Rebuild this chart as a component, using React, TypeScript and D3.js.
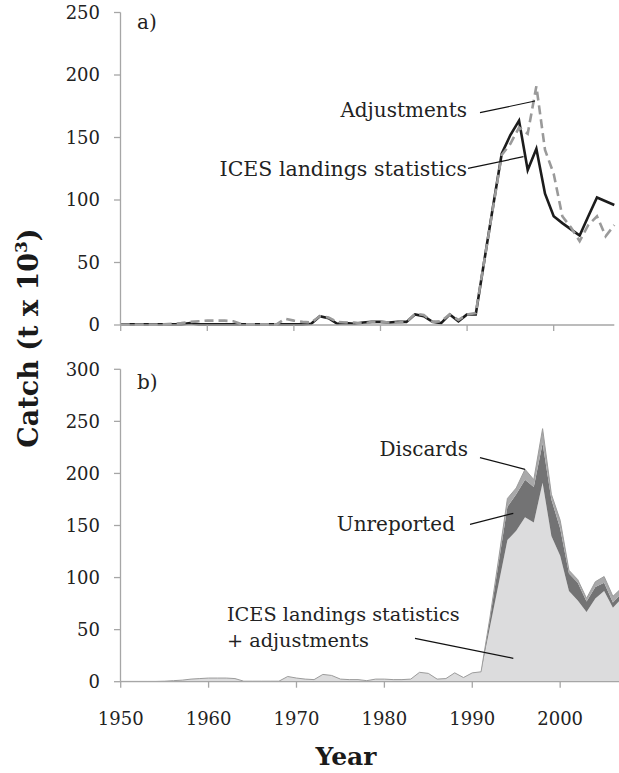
import React from "react";
import * as d3 from "d3";

// years 1950..2007
const years = d3.range(1950, 2008);

// ICES landings statistics (t x 10^3), panel a black line
const icesLandings = [
  0.5, 0.5, 0.5, 0.5, 0.5, 0.5, 0.5, 0.5, 1.5, 0.5,
  0.5, 0.5, 0.5, 0.5, 0.5, 0.5, 0.5, 0.5, 0.5, 0.5,
  0.5, 0.5, 1, 7, 5.5, 1, 1.5, 1, 2, 2.5,
  2.5, 2, 2.5, 2.5, 8.5, 7, 2.5, 1.5, 8.5, 3,
  8.5, 8.5, 52, 95, 137, 152, 163.5, 124, 141, 105,
  87, 81.5, 76.5, 71.5, 87, 102, 99, 96,
];

// ICES landings + adjustments (dashed line in a, base area in b)
const adjusted = [
  0.3, 0.3, 0.3, 0.3, 0.3, 0.5, 1, 1.5, 2.5, 3,
  3.5, 3.5, 3.5, 3, 0.5, 0.5, 0.5, 0.5, 0.5, 5,
  3.5, 2.5, 2, 7, 6, 2.5, 2, 2, 1, 2.5,
  2.5, 2, 2, 2.5, 9, 8, 2.5, 3, 8.5, 4,
  8.5, 9.5, 52, 94, 136, 145, 158, 153, 191, 140,
  121, 87, 78, 67, 80, 87, 71, 80,
];

const unreported = [
  0, 0, 0, 0, 0, 0, 0, 0, 0, 0,
  0, 0, 0, 0, 0, 0, 0, 0, 0, 0,
  0, 0, 0, 0, 0, 0, 0, 0, 0, 0,
  0, 0, 0, 0, 0, 0, 0, 0, 0, 0,
  0, 0, 8, 20, 32, 35, 36, 34, 38, 35,
  26, 17, 17, 10, 11, 8, 5, 5,
];

const discards = [
  0, 0, 0, 0, 0, 0, 0, 0, 0, 0,
  0, 0, 0, 0, 0, 0, 0, 0, 0, 0,
  0, 0, 0, 0, 0, 0, 0, 0, 0, 0,
  0, 0, 0, 0, 0, 0, 0, 0, 0, 0,
  0, 0, 1, 4, 8, 6, 10, 7, 14, 5,
  8, 3, 3, 3, 5, 6, 6, 5,
];

const yearTicks = [1950, 1960, 1970, 1980, 1990, 2000];
const ticksA = [0, 50, 100, 150, 200, 250];
const ticksB = [0, 50, 100, 150, 200, 250, 300];

const FONT = "'DejaVu Serif', serif";
const AXIS = "#a6a6a6";

export default function App() {
  const xA = d3.scaleLinear().domain([1950, 2007]).range([120.7, 614.3]);
  const yA = d3.scaleLinear().domain([0, 250]).range([325, 12.5]);
  const xB = d3.scaleLinear().domain([1950, 2007]).range([120.7, 621.7]);
  const yB = d3.scaleLinear().domain([0, 300]).range([681.7, 369.3]);

  const lineA = d3
    .line<number>()
    .x((d, i) => xA(years[i]))
    .y((d) => yA(d));

  const rows = years.map((yr, i) => ({
    year: yr,
    base: adjusted[i],
    unreported: unreported[i],
    discards: discards[i],
  }));
  const stacked = d3.stack<any>().keys(["base", "unreported", "discards"])(rows);
  const area = d3
    .area<any>()
    .x((d) => xB(d.data.year))
    .y0((d) => yB(d[0]))
    .y1((d) => yB(d[1]));
  const fills = ["#dcdcdd", "#737374", "#a9a9aa"];

  const axisX = 120.5;

  return (
    <svg
      width={619}
      height={773}
      style={{ position: "absolute", left: 0, top: 0, background: "#fff" }}
      fontFamily={FONT}
    >
      {/* ---------- panel a ---------- */}
      <path d={lineA(icesLandings) || ""} fill="none" stroke="#1c1c1c" strokeWidth={2.6} strokeLinejoin="miter" />
      <path
        d={lineA(adjusted) || ""}
        fill="none"
        stroke="#9a9a9a"
        strokeWidth={2.6}
        strokeDasharray="9,5"
      />
      <line x1={axisX} x2={axisX} y1={yA(250)} y2={yA(0)} stroke={AXIS} strokeWidth={1.3} />
      <line x1={axisX} x2={614.3} y1={yA(0)} y2={yA(0)} stroke={AXIS} strokeWidth={1.3} />
      {ticksA.map((t) => (
        <g key={"ya" + t}>
          <line x1={114} x2={axisX} y1={yA(t)} y2={yA(t)} stroke={AXIS} strokeWidth={1.3} />
          <text x={100} y={yA(t)} dy="0.35em" textAnchor="end" fontSize={18} fill="#222">
            {t}
          </text>
        </g>
      ))}
      {yearTicks.map((t) => (
        <line key={"xa" + t} x1={xA(t)} x2={xA(t)} y1={yA(0)} y2={yA(0) + 6} stroke={AXIS} strokeWidth={1.3} />
      ))}
      <text x={137} y={29} fontSize={20} fill="#222">a)</text>
      <text x={467} y={117} textAnchor="end" fontSize={20} fill="#222">Adjustments</text>
      <line x1={480} y1={112.7} x2={535} y2={101} stroke="#111" strokeWidth={1.2} />
      <text x={467} y={176} textAnchor="end" fontSize={20.5} fill="#222">ICES landings statistics</text>
      <line x1={468} y1={168.3} x2={523.5} y2={156.7} stroke="#111" strokeWidth={1.2} />

      {/* ---------- panel b ---------- */}
      {stacked.map((s, i) => (
        <path key={s.key} d={area(s) || ""} fill={fills[i]} />
      ))}
      <path
        d={
          d3
            .line<any>()
            .x((d) => xB(d.data.year))
            .y((d) => yB(d[1]))(stacked[2]) || ""
        }
        fill="none"
        stroke="#9c9c9c"
        strokeWidth={1}
      />
      <line x1={axisX} x2={axisX} y1={yB(300)} y2={yB(0)} stroke={AXIS} strokeWidth={1.3} />
      <line x1={axisX} x2={619} y1={yB(0)} y2={yB(0)} stroke={AXIS} strokeWidth={1.3} />
      {ticksB.map((t) => (
        <g key={"yb" + t}>
          <line x1={114} x2={axisX} y1={yB(t)} y2={yB(t)} stroke={AXIS} strokeWidth={1.3} />
          <text x={100} y={yB(t)} dy="0.35em" textAnchor="end" fontSize={18} fill="#222">
            {t}
          </text>
        </g>
      ))}
      {yearTicks.map((t) => (
        <g key={"xb" + t}>
          <line x1={xB(t)} x2={xB(t)} y1={yB(0)} y2={yB(0) + 6} stroke={AXIS} strokeWidth={1.3} />
          <text x={xB(t)} y={725} textAnchor="middle" fontSize={18} fill="#222">
            {t}
          </text>
        </g>
      ))}
      <text x={137} y={389} fontSize={20} fill="#222">b)</text>
      <text x={468} y={456} textAnchor="end" fontSize={20} fill="#222">Discards</text>
      <line x1={480} y1={457.7} x2={525} y2={469.3} stroke="#111" strokeWidth={1.2} />
      <text x={455} y={530.5} textAnchor="end" fontSize={20} fill="#222">Unreported</text>
      <line x1={470} y1={524.3} x2={513.3} y2={513.3} stroke="#111" strokeWidth={1.2} />
      <text x={227} y={620.5} fontSize={19.3} fill="#222">ICES landings statistics</text>
      <text x={227} y={646.5} fontSize={19.3} fill="#222">+ adjustments</text>
      <line x1={415} y1={638.3} x2={513.3} y2={658.3} stroke="#111" strokeWidth={1.2} />

      {/* ---------- axis titles ---------- */}
      <text
        transform="translate(38,338) rotate(-90)"
        textAnchor="middle"
        fontSize={27}
        fontWeight="bold"
        fill="#1a1a1a"
      >
        Catch (t x 10
        <tspan fontSize={17} dy={-11}>3</tspan>
        <tspan dy={11}>)</tspan>
      </text>
      <text x={346} y={765} textAnchor="middle" fontSize={25} fontWeight="bold" fill="#1a1a1a">
        Year
      </text>
    </svg>
  );
}
